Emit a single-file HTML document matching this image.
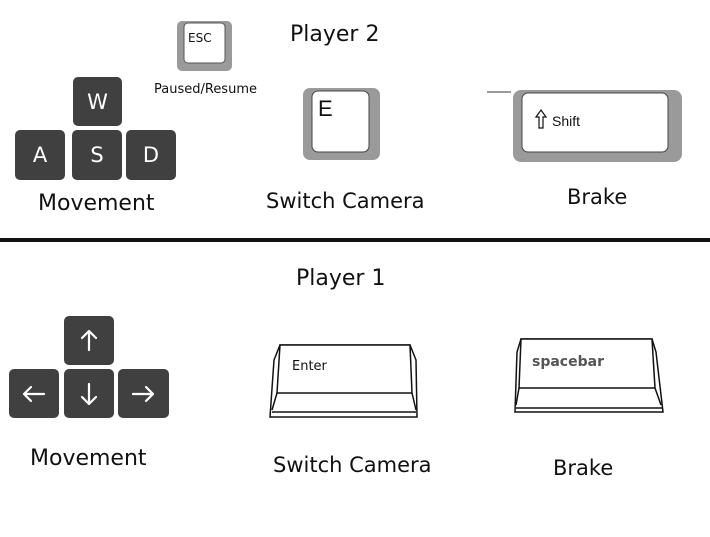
<!DOCTYPE html>
<html><head><style>
body{margin:0;width:710px;height:537px;background:#fff;position:relative;overflow:hidden;font-family:"Liberation Sans",sans-serif;}
.t{position:absolute;color:#111;white-space:nowrap;font-family:"DejaVu Sans","Liberation Sans",sans-serif;}
.k{position:absolute;background:#404040;border-radius:5px;color:#fff;display:flex;align-items:center;justify-content:center;font-family:"DejaVu Sans",sans-serif;font-size:21px;}
</style></head><body>
<svg width="710" height="537" style="position:absolute;left:0;top:0">
 <rect x="177" y="21" width="55" height="50" rx="5" fill="#9a9a9a"/>
 <rect x="184" y="23" width="41" height="40" rx="4" fill="#fff" stroke="#555" stroke-width="1"/>
 <rect x="303" y="88" width="77" height="72" rx="7" fill="#9a9a9a"/>
 <rect x="312" y="91" width="57" height="61" rx="6" fill="#fff" stroke="#444" stroke-width="1"/>
 <line x1="487" y1="92" x2="511" y2="92" stroke="#333" stroke-width="1"/>
 <rect x="513" y="90" width="169" height="72" rx="8" fill="#9a9a9a"/>
 <rect x="522" y="93" width="146" height="59" rx="6" fill="#fff" stroke="#444" stroke-width="1"/>
 <path d="M536 117 l5 -7 l5 7 h-3 v11 h-4 v-11 z" fill="#fff" stroke="#111" stroke-width="1.2"/>
 <rect x="0" y="238" width="710" height="4" fill="#111"/>
 <g fill="#fff" stroke="#111" stroke-width="1.5">
  <path d="M270 417 L274 360 L280 345 L410 345 L416 360 L417 417 Z"/>
  <path d="M280 345 L410 345 L412 393 L277 393 Z"/>
  <path d="M277 393 L272 410 M412 393 L416 410 M272 412 L416 412"/>
 </g>
 <g fill="#fff" stroke="#111" stroke-width="1.5">
  <path d="M515 412 L517 352 L521 339 L652 339 L656 352 L663 412 Z"/>
  <path d="M521 339 L652 339 L655 388 L519 388 Z"/>
  <path d="M519 388 L516 405 M655 388 L661 405 M516 408 L662 408"/>
 </g>
 <rect x="64" y="316" width="50" height="49" rx="5" fill="#404040"/>
 <rect x="9" y="369" width="50" height="49" rx="5" fill="#404040"/>
 <rect x="64" y="369" width="50" height="49" rx="5" fill="#404040"/>
 <rect x="118" y="369" width="51" height="49" rx="5" fill="#404040"/>
 <g stroke="#fff" stroke-width="2.2" fill="none" stroke-linecap="round" stroke-linejoin="round">
  <path d="M89 350 V331 M82 338 L89 331 L96 338"/>
  <path d="M89 384 V404 M82 397 L89 404 L96 397"/>
  <path d="M44 394 H24 M31 387 L24 394 L31 401"/>
  <path d="M133 394 H153 M146 387 L153 394 L146 401"/>
 </g>
</svg>
<div class="t" style="left:188px;top:31px;font-size:12px">ESC</div>
<div class="t" style="left:290px;top:22px;font-size:22px">Player 2</div>
<div class="t" style="left:154px;top:82px;font-size:13px">Paused/Resume</div>
<div class="k" style="left:73px;top:77px;width:49px;height:49px">W</div>
<div class="k" style="left:15px;top:130px;width:50px;height:50px">A</div>
<div class="k" style="left:72px;top:130px;width:50px;height:50px">S</div>
<div class="k" style="left:126px;top:130px;width:50px;height:50px">D</div>
<div class="t" style="left:38px;top:191px;font-size:22px">Movement</div>
<div class="t" style="left:318px;top:96px;font-size:22px;font-family:'Liberation Sans',sans-serif">E</div>
<div class="t" style="left:266px;top:189px;font-size:21px">Switch Camera</div>
<div class="t" style="left:552px;top:113px;font-size:14px;font-family:'Liberation Sans',sans-serif">Shift</div>
<div class="t" style="left:567px;top:185px;font-size:21px">Brake</div>
<div class="t" style="left:296px;top:266px;font-size:22px">Player 1</div>
<div class="t" style="left:30px;top:446px;font-size:22px">Movement</div>
<div class="t" style="left:292px;top:359px;font-size:13px">Enter</div>
<div class="t" style="left:532px;top:354px;font-size:14px;color:#555;font-weight:bold">spacebar</div>
<div class="t" style="left:273px;top:453px;font-size:21px">Switch Camera</div>
<div class="t" style="left:553px;top:456px;font-size:21px">Brake</div>
</body></html>
